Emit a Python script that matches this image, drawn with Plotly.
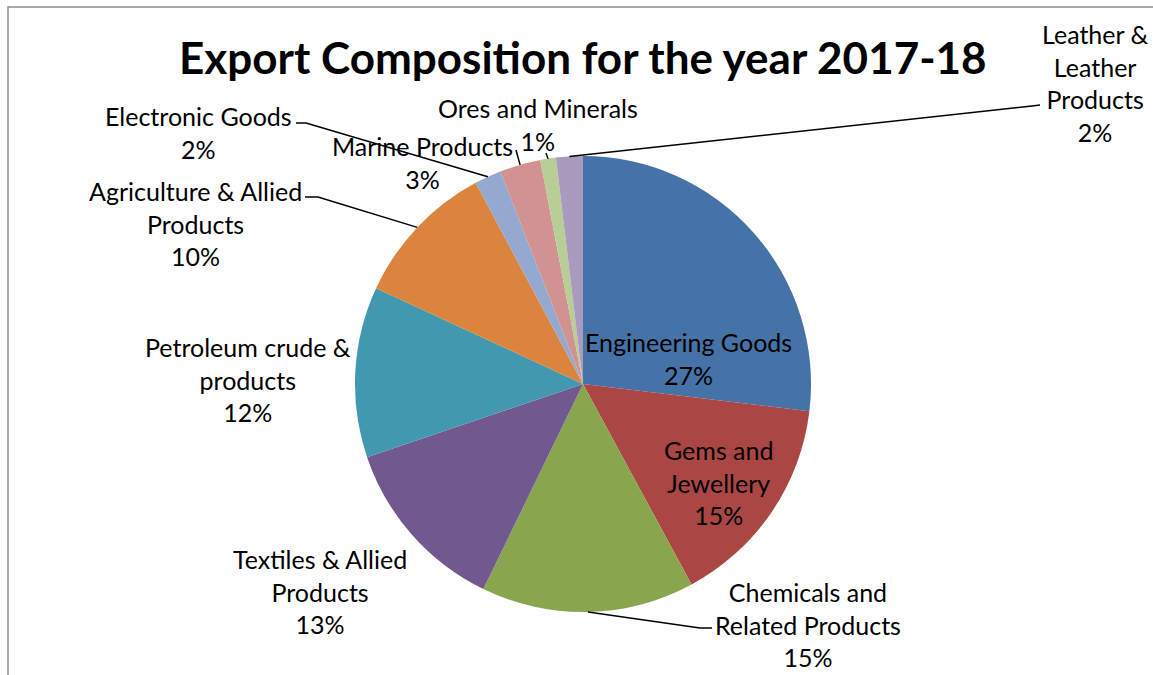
import math
import plotly.graph_objects as go

# ---- data ----
categories = ["Engineering Goods", "Gems and Jewellery", "Chemicals and Related Products",
              "Textiles & Allied Products", "Petroleum crude & products",
              "Agriculture & Allied Products", "Electronic Goods", "Marine Products",
              "Ores and Minerals", "Leather & Leather Products"]
wrapped = ["Engineering Goods", "Gems and<br>Jewellery", "Chemicals and<br>Related Products",
           "Textiles & Allied<br>Products", "Petroleum crude &<br>products",
           "Agriculture & Allied<br>Products", "Electronic Goods", "Marine Products",
           "Ores and Minerals", "Leather &<br>Leather<br>Products"]
values = [26.9, 15.2, 15.1, 12.6, 12.1, 10.3, 1.9, 2.9, 1.1, 1.9]
colors = ["#4572A7", "#AA4643", "#89A54E", "#71588F", "#4198AF",
          "#DB843D", "#93A9CF", "#D19392", "#B9CD96", "#A99BBD"]
title = "Export Composition for the year 2017-18"

W, H = 1153, 675
CX, CY, R = 583, 384, 228
FONT = "Lato"


def px(x, y):
    return x / W, 1 - y / H


fig = go.Figure(go.Pie(
    labels=categories, values=values, sort=False, direction="clockwise",
    marker=dict(colors=colors, line=dict(width=0)),
    textinfo="none", hoverinfo="label+percent", showlegend=False,
    domain=dict(x=[(CX - R) / W, (CX + R) / W], y=[1 - (CY + R) / H, 1 - (CY - R) / H]),
))

total = sum(values)
cum = 0
mid_pts = []
for v in values:
    a = (cum + v / 2) / total * 2 * math.pi
    mid_pts.append((CX + R * math.sin(a), CY - R * math.cos(a)))
    cum += v

# label block centres (layout)
label_pos = [(688, 359), (718, 483), (808, 624), (320, 591), (248, 379),
             (195, 223), (198, 132), (422, 162), (538, 125), (1095, 83)]

annotations = []
for i, v in enumerate(values):
    pct = round(v / total * 100)
    x, y = px(*label_pos[i])
    annotations.append(dict(
        x=x, y=y, xref="paper", yref="paper", showarrow=False,
        text=f"{wrapped[i]}<br>{pct}%", align="center",
        xanchor="center", yanchor="middle",
        font=dict(family=FONT, size=25, color="#000000"),
    ))

annotations.append(dict(
    x=px(583, 57)[0], y=px(583, 57)[1], xref="paper", yref="paper", showarrow=False,
    text=f"<b>{title}</b>", xanchor="center", yanchor="middle",
    font=dict(family=FONT, size=44, color="#000000"),
))

# leader lines: label-side points (layout) -> slice edge (from data)
leaders = {
    2: [(712, 628), (700, 628)],
    5: [(305, 197), (318, 197)],
    6: [(296, 123), (306, 123)],
    7: [(516, 150)],
    8: [(546, 153)],
    9: [(1040, 105), (1032, 106)],
}
shapes = []
for i, pts in leaders.items():
    allpts = pts + [mid_pts[i]]
    path = ""
    for k, (x, y) in enumerate(allpts):
        xp, yp = px(x, y)
        path += ("M" if k == 0 else " L") + f" {xp} {yp}"
    shapes.append(dict(type="path", xref="paper", yref="paper", path=path,
                       line=dict(color="#000000", width=1.5)))

# chart frame (top and left edges visible)
shapes.append(dict(type="rect", xref="paper", yref="paper",
                   x0=8 / W, x1=1.01, y0=-0.01, y1=1 - 7 / H,
                   line=dict(color="#8c8c8c", width=1.5), fillcolor="rgba(0,0,0,0)"))

fig.update_layout(
    width=W, height=H, margin=dict(l=0, r=0, t=0, b=0),
    paper_bgcolor="#ffffff", plot_bgcolor="#ffffff",
    annotations=annotations, shapes=shapes,
)

fig.write_html("out.html")
